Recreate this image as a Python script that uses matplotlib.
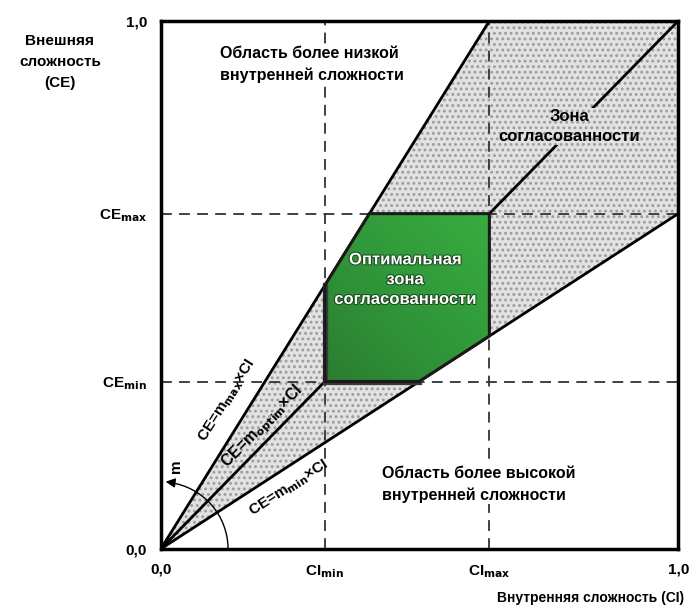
import numpy as np
import matplotlib
matplotlib.use("Agg")
import matplotlib.pyplot as plt
import matplotlib.patheffects as pe
from matplotlib.patches import Polygon, Arc

plt.rcParams['font.family'] = ['Liberation Sans', 'DejaVu Sans']
plt.rcParams['font.weight'] = 'bold'
plt.rcParams['hatch.linewidth'] = 1.3

# values
ci_min, ci_max = 0.317, 0.635
ce_min, ce_max = 0.317, 0.635
m_max, m_optim, m_min = 1 / 0.635, 1.0, 0.635

x_ticks = [0.0, ci_min, ci_max, 1.0]
x_labels = ['0,0', 'CI$_{\\mathbf{min}}$', 'CI$_{\\mathbf{max}}$', '1,0']
y_ticks = [0.0, ce_min, ce_max, 1.0]
y_labels = ['0,0', 'CE$_{\\mathbf{min}}$', 'CE$_{\\mathbf{max}}$', '1,0']

fig = plt.figure(figsize=(6.9, 6.07), dpi=100)
ax = fig.add_axes([0.233, 0.0956, 0.75, 0.87])
ax.set_xlim(0, 1)
ax.set_ylim(0, 1)

# grey band between the upper and lower lines
band = Polygon([(0, 0), (1 / m_max, 1), (1, 1), (1, m_min)], closed=True,
               facecolor='#e2e2e2', edgecolor='#9c9c9c', hatch='...', lw=0, zorder=1)
ax.add_patch(band)

# dashed guide lines
for v in [ci_min, ci_max]:
    ax.plot([v, v], [0, 1], ls=(0, (6, 4)), color='#333333', lw=1.3, zorder=2)
for v in [ce_min, ce_max]:
    ax.plot([0, 1], [v, v], ls=(0, (6, 4)), color='#333333', lw=1.3, zorder=2)

# lines from the origin
ax.plot([0, 1 / m_max], [0, 1], color='black', lw=2, zorder=3)
ax.plot([0, 1], [0, m_optim], color='black', lw=2, zorder=3)
ax.plot([0, 1], [0, m_min], color='black', lw=2, zorder=3)

# optimal zone
opt = [(ci_min, ce_min), (ci_min, ci_min * m_max), (ce_max / m_max, ce_max),
       (ci_max, ce_max), (ci_max, ci_max * m_min), (ce_min / m_min, ce_min)]
gx, gy = np.meshgrid(np.linspace(0, 1, 100), np.linspace(0, 1, 100))
grad = gx + gy
cmap = matplotlib.colors.LinearSegmentedColormap.from_list('g', ['#2b7d30', '#30983a', '#38ac3f'])
im = ax.imshow(grad, extent=[ci_min, ci_max, ce_min, ce_max], origin='lower',
               cmap=cmap, aspect='auto', zorder=5)
im.set_clip_path(Polygon(opt, closed=True, transform=ax.transData))
ax.plot([opt[1][0], opt[0][0], opt[5][0]], [opt[1][1], opt[0][1], opt[5][1]],
        color='#3a3a3a', lw=3.8, zorder=5.5, solid_joinstyle='miter')
green = Polygon(opt, closed=True, facecolor='none', edgecolor='#1a1a1a', lw=2.2, zorder=6)
ax.add_patch(green)

# angle arc with arrow
ax.add_patch(Arc((0, 0), 2 * 0.13, 2 * 0.127, theta1=0, theta2=82, color='black', lw=1, zorder=4))
ax.annotate('', xy=(0.004, 0.128), xytext=(0.02, 0.126),
            arrowprops=dict(arrowstyle='-|>', color='black', lw=1, mutation_scale=14), zorder=4)
ax.text(0.029, 0.157, 'm', rotation=90, fontsize=11, ha='center', va='center')

# line labels
ax.text(0.128, 0.282, 'CE=m$_{\\mathbf{max}}$×CI', rotation=58, fontsize=11,
        ha='center', va='center', zorder=7)
ax.text(0.197, 0.232, 'CE=m$_{\\mathbf{optim}}$×CI', rotation=45.5, fontsize=11.5,
        ha='center', va='center', zorder=7)
ax.text(0.247, 0.115, 'CE=m$_{\\mathbf{min}}$×CI', rotation=33, fontsize=11,
        ha='center', va='center', zorder=7)

# region labels
ax.text(0.114, 0.917, 'Область более низкой\nвнутренней сложности', fontsize=11.5,
        ha='left', va='center', linespacing=1.5, zorder=7,
        bbox=dict(facecolor='white', edgecolor='none', pad=1))
ax.text(0.427, 0.122, 'Область более высокой\nвнутренней сложности', fontsize=11.5,
        ha='left', va='center', linespacing=1.5, zorder=7,
        bbox=dict(facecolor='white', edgecolor='none', pad=1))
ax.text(0.79, 0.80, 'Зона\nсогласованности', fontsize=12,
        ha='center', va='center', linespacing=1.4, zorder=7,
        bbox=dict(facecolor='#e2e2e2', edgecolor='#9c9c9c', hatch='...', lw=0, pad=1))
ax.text(0.472, 0.51, 'Оптимальная\nзона\nсогласованности', fontsize=12, color='white',
        ha='center', va='center', linespacing=1.4, zorder=7,
        path_effects=[pe.withStroke(linewidth=1.5, foreground='#1d4a20')])

# axes
ax.set_xticks(x_ticks)
ax.set_xticklabels(x_labels, fontsize=11)
ax.set_yticks(y_ticks)
ax.set_yticklabels(y_labels, fontsize=11)
ax.tick_params(length=0, pad=10)
for s in ax.spines.values():
    s.set_linewidth(2.5)
    s.set_zorder(8)

ax.text(-0.195, 0.922, 'Внешняя\nсложность\n(CE)', transform=ax.transAxes, fontsize=11,
        ha='center', va='center', linespacing=1.6)
ax.text(0.83, -0.093, 'Внутренняя сложность (CI)', transform=ax.transAxes, fontsize=10,
        ha='center', va='center')

fig.savefig('out.png', dpi=100)
